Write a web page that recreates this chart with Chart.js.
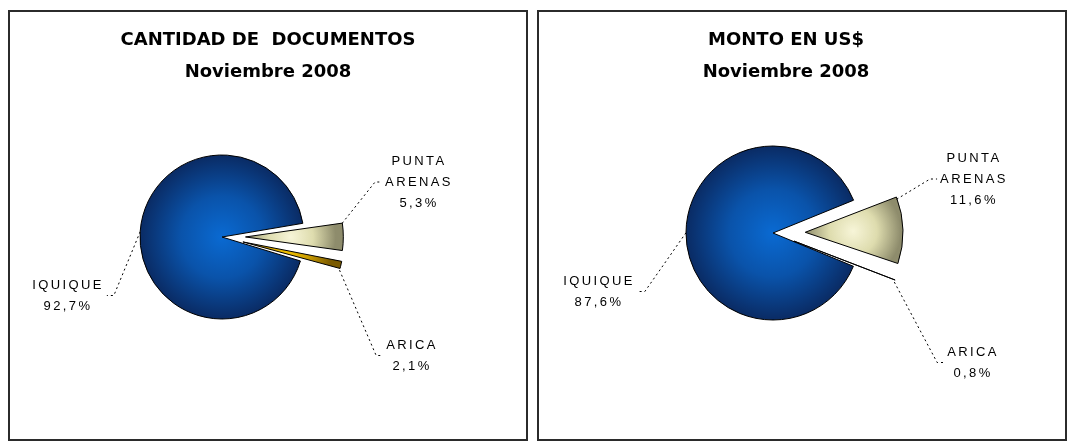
<!DOCTYPE html>
<html>
<head>
<meta charset="utf-8">
<script src="https://cdn.jsdelivr.net/npm/chart.js@4.4.0/dist/chart.umd.min.js"></script>
<style>
body { margin: 0; background: #fff; width: 1074px; height: 448px; overflow: hidden; position: relative; }
.panel { position: absolute; top: 10px; height: 431px; border: 2px solid #2b2b2b; box-sizing: border-box; background: #fff; }
#p1 { left: 8px; width: 520px; }
#p2 { left: 537px; width: 530px; }
canvas { display: block; }
</style>
</head>
<body>
<div class="panel" id="p1"><canvas id="c1" width="516" height="427"></canvas></div>
<div class="panel" id="p2"><canvas id="c2" width="526" height="427"></canvas></div>
<script>
// data
const regiones = ['IQUIQUE', 'PUNTA ARENAS', 'ARICA'];
const labelLines = [['IQUIQUE'], ['PUNTA', 'ARENAS'], ['ARICA']];
const docsPct = [92.7, 5.3, 2.1];
const montoPct = [87.6, 11.6, 0.8];
const docsTitle = ['CANTIDAD DE  DOCUMENTOS', 'Noviembre 2008'];
const montoTitle = ['MONTO EN US$', 'Noviembre 2008'];

// gradient stops per slice: centre, middle, edge
const docsColors = [
    ['#0a6ad2', '#0a53aa', '#0a2b64'],
    ['#f7f5d8', '#deDCae', '#8e8c6c'],
    ['#f2c200', '#c89a00', '#7a5a00']
];
const montoColors = [
    ['#0a6ad2', '#0a53aa', '#0a2b64'],
    ['#f7f5d8', '#deDCae', '#8e8c6c'],
    ['#d8b080', '#a88058', '#5a3e28']
];

const LINE_H = 21;

function fmtPct(v) {
    return v.toFixed(1).replace('.', ',') + '%';
}

function paddingFor(canvas, center) {
    var W = canvas.width, H = canvas.height;
    return {
        left: Math.max(0, 2 * center[0] - W),
        right: Math.max(0, W - 2 * center[0]),
        top: Math.max(0, 2 * center[1] - H),
        bottom: Math.max(0, H - 2 * center[1])
    };
}

function sliceGradient(colors, radius, rotation) {
    return function(context) {
        var chart = context.chart;
        var area = chart.chartArea;
        var i = context.dataIndex;
        if (!area) return colors[i][1];
        var cx = (area.left + area.right) / 2;
        var cy = (area.top + area.bottom) / 2;
        var values = context.dataset.data;
        var total = values.reduce((a, b) => a + b, 0);
        var before = 0;
        for (var k = 0; k < i; k++) before += values[k];
        var mid = ((rotation - 90) + (before + values[i] / 2) / total * 360) * Math.PI / 180;
        var gx = cx, gy = cy, gr = radius;
        if (i > 0) {
            gx = cx + Math.cos(mid) * radius * 0.55;
            gy = cy + Math.sin(mid) * radius * 0.55;
            gr = radius * 0.55;
        }
        var g = chart.ctx.createRadialGradient(gx, gy, 0, gx, gy, gr);
        g.addColorStop(0, colors[i][0]);
        g.addColorStop(0.5, colors[i][1]);
        g.addColorStop(1, colors[i][2]);
        return g;
    };
}

// titles, labels and dashed leader lines
const pieLabels = {
    id: 'pieLabels',
    afterDraw(chart, args, opts) {
        var ctx = chart.ctx;
        var meta = chart.getDatasetMeta(0);
        var values = chart.data.datasets[0].data;
        ctx.save();
        ctx.fillStyle = '#000';
        ctx.strokeStyle = '#000';
        ctx.textAlign = 'center';
        ctx.textBaseline = 'middle';
        ctx.font = 'bold 18px "DejaVu Sans"';
        opts.title.forEach((t, k) => ctx.fillText(t, opts.titleX, opts.titleY[k]));

        ctx.font = '13px "Liberation Sans"';
        ctx.letterSpacing = '2.4px';
        meta.data.forEach(function(arc, i) {
            var p = opts.labels[i];
            var lines = labelLines[i].concat([fmtPct(values[i])]);
            var w = Math.max.apply(null, lines.map(s => ctx.measureText(s).width));
            lines.forEach((s, k) => ctx.fillText(s, p.x, p.y + k * LINE_H));

            // where the slice is actually drawn (same shift as Chart.js arc offset)
            var a = arc.getProps(['x', 'y', 'startAngle', 'endAngle', 'outerRadius', 'circumference']);
            var off = (arc.options.offset || 0) / 4;
            var fix = 1 - Math.sin(Math.min(Math.PI, a.circumference || 0));
            var half = (a.startAngle + a.endAngle) / 2;
            var shift = off + off * fix;
            var ang = a.startAngle + (a.endAngle - a.startAngle) * p.along;
            var sx = a.x + Math.cos(half) * shift + Math.cos(ang) * a.outerRadius;
            var sy = a.y + Math.sin(half) * shift + Math.sin(ang) * a.outerRadius;

            var ly = p.y + p.attach * LINE_H;
            var dir = p.side === 'left' ? -1 : 1;
            var ex = p.x + dir * (w / 2 + 3);
            ctx.lineWidth = 1;
            ctx.setLineDash([2, 3]);
            ctx.beginPath();
            ctx.moveTo(sx, sy);
            ctx.lineTo(ex + dir * 7, ly);
            ctx.lineTo(ex, ly);
            ctx.stroke();
        });
        ctx.restore();
    }
};

function makePie(canvasId, values, colors, layout) {
    var canvas = document.getElementById(canvasId);
    return new Chart(canvas, {
        type: 'pie',
        data: {
            labels: regiones,
            datasets: [{
                data: values,
                backgroundColor: sliceGradient(colors, layout.radius, layout.rotation),
                borderColor: '#000',
                borderWidth: 1,
                offset: layout.offsets,
                hoverOffset: 0,
                rotation: layout.rotation,
                radius: layout.radius
            }]
        },
        options: {
            responsive: false,
            animation: false,
            events: [],
            layout: { padding: paddingFor(canvas, layout.center) },
            plugins: {
                legend: { display: false },
                tooltip: { enabled: false },
                title: { display: false },
                pieLabels: {
                    title: layout.title,
                    titleX: layout.titleX,
                    titleY: layout.titleY,
                    labels: layout.labels
                }
            }
        },
        plugins: [pieLabels]
    });
}

makePie('c1', docsPct, docsColors, {
    center: [212, 225],
    radius: 82,
    rotation: 107,
    offsets: [0, 94, 86],
    title: docsTitle,
    titleX: 258,
    titleY: [28, 60],
    labels: [
        { x: 58, y: 273, side: 'right', attach: 0.5, along: 0.5 },
        { x: 409, y: 149, side: 'left', attach: 1, along: 0 },
        { x: 402, y: 333, side: 'left', attach: 0.5, along: 1 }
    ]
});

makePie('c2', montoPct, montoColors, {
    center: [234, 221],
    radius: 87,
    rotation: 112.5,
    offsets: [0, 129, 90],
    title: montoTitle,
    titleX: 247,
    titleY: [28, 60],
    labels: [
        { x: 60, y: 269, side: 'right', attach: 0.5, along: 0.5 },
        { x: 435, y: 146, side: 'left', attach: 1, along: 0 },
        { x: 434, y: 340, side: 'left', attach: 0.5, along: 1 }
    ]
});
</script>
</body>
</html>
